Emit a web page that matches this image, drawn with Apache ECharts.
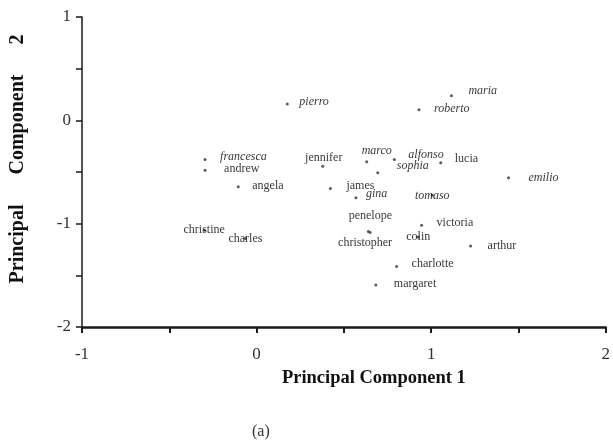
<!DOCTYPE html>
<html>
<head>
<meta charset="utf-8">
<script src="https://cdn.jsdelivr.net/npm/echarts@6/dist/echarts.min.js"></script>
<style>
html,body{margin:0;padding:0;background:#fff;}
#chart{width:613px;height:448px;}
</style>
</head>
<body>
<div id="chart"></div>
<script>
// ---- data ----
const names = ['pierro','maria','roberto','francesca','andrew','angela','jennifer','marco','alfonso','lucia','sophia','emilio','james','gina','tomaso','penelope','christopher','colin','victoria','arthur','charlotte','margaret','christine','charles'];
const pc1 = [0.176, 1.116, 0.930, -0.295, -0.295, -0.105, 0.379, 0.631, 0.789, 1.055, 0.694, 1.443, 0.423, 0.569, 1.006, 0.640, 0.650, 0.926, 0.945, 1.226, 0.802, 0.683, -0.300, -0.064];
const pc2 = [0.158, 0.238, 0.103, -0.379, -0.482, -0.642, -0.444, -0.401, -0.379, -0.411, -0.507, -0.555, -0.659, -0.748, -0.726, -1.075, -1.085, -1.128, -1.015, -1.215, -1.414, -1.594, -1.064, -1.144];
const italicNames = ['pierro','maria','roberto','francesca','marco','alfonso','sophia','emilio','gina','tomaso'];
const xTicks = [-1, 0, 1, 2];
const yTicks = [-2, -1, 0, 1];

// ---- label placement (style only): [kind, dx, dy] relative to point centre ----
const place = {
  pierro:['r',12,-2], maria:['r',17,-5], roberto:['r',15,-1],
  francesca:['r',15,-3], andrew:['r',19,-1], angela:['r',14,-1],
  jennifer:['c',1,-8], marco:['c',10,-11], alfonso:['r',14,-5],
  lucia:['r',14,-4], sophia:['r',19,-7], emilio:['r',20,0],
  james:['r',16,-3], gina:['r',10,-4], tomaso:['c',0,0],
  penelope:['c',2,-16], christopher:['c',-5,10], colin:['c',0,0],
  victoria:['r',15,-2], arthur:['r',17,0], charlotte:['r',15,-3],
  margaret:['r',18,-1], christine:['c',0,0], charles:['c',0,0]
};

const SYM = 3;
const serif = '"Liberation Serif","DejaVu Serif",serif';
const data = names.map((n, i) => {
  const p = place[n];
  return {
    name: n,
    value: [pc1[i], pc2[i]],
    label: {
      show: true,
      formatter: n,
      position: [SYM / 2 + p[1], SYM / 2 + p[2]],
      align: p[0] === 'r' ? 'left' : 'center',
      verticalAlign: 'middle',
      fontStyle: italicNames.indexOf(n) >= 0 ? 'italic' : 'normal'
    }
  };
});

const chart = echarts.init(document.getElementById('chart'), null, {renderer:'canvas'});
chart.setOption({
  animation: false,
  backgroundColor: '#ffffff',
  grid: {left: 82, right: 5, top: 17, bottom: 121, containLabel: false},
  xAxis: {
    type: 'value', min: -1, max: 2, interval: 0.5,
    name: 'Principal Component 1', nameLocation: 'middle', nameGap: 42,
    nameTextStyle: {fontFamily: serif, fontWeight: 'bold', fontSize: 18.5, color: '#111', padding: [0,0,0,60]},
    axisLine: {show: true, onZero: false, lineStyle: {color: '#1a1a1a', width: 2.5}},
    axisTick: {show: true, inside: false, length: 6, lineStyle: {color: '#1a1a1a', width: 2}},
    axisLabel: {
      margin: 19, fontFamily: serif, fontSize: 17, color: '#333',
      formatter: v => (xTicks.indexOf(v) >= 0 ? String(v) : '')
    },
    splitLine: {show: false}
  },
  yAxis: {
    type: 'value', min: -2, max: 1, interval: 0.5,
    name: 'Principal      Component      2', nameLocation: 'middle', nameGap: 54, nameRotate: 90,
    nameTextStyle: {fontFamily: serif, fontWeight: 'bold', fontSize: 20, color: '#111', padding: [0,0,0,26]},
    axisLine: {show: true, onZero: false, lineStyle: {color: '#1a1a1a', width: 1.5}},
    axisTick: {show: true, inside: false, length: 6, lineStyle: {color: '#1a1a1a', width: 1.5}},
    axisLabel: {
      margin: 11, fontFamily: serif, fontSize: 17, color: '#333',
      formatter: v => (yTicks.indexOf(v) >= 0 ? String(v) : '')
    },
    splitLine: {show: false}
  },
  graphic: [{
    type: 'text', left: 252, top: 424,
    style: {text: '(a)', font: '16px ' + serif, fill: '#333'}
  }],
  series: [{
    type: 'scatter',
    symbol: 'circle',
    symbolSize: SYM,
    itemStyle: {color: '#333'},
    label: {fontFamily: serif, fontSize: 12, color: '#000'},
    labelLayout: {hideOverlap: false},
    data: data
  }]
});
</script>
</body>
</html>
